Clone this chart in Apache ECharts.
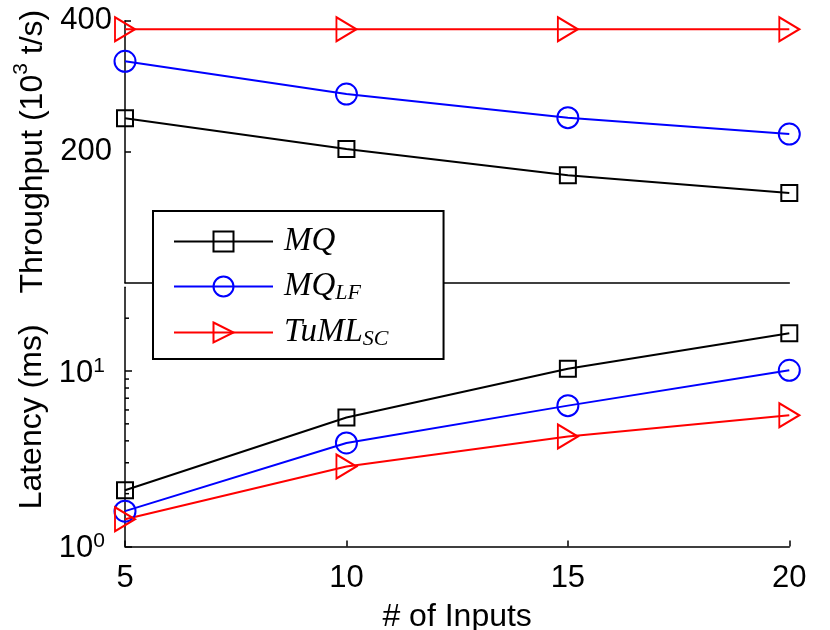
<!DOCTYPE html>
<html>
<head>
<meta charset="utf-8">
<title>Throughput / Latency</title>
<script src="https://cdn.jsdelivr.net/npm/echarts@6/dist/echarts.min.js"></script>
<style>
	html, body {margin: 0; padding: 0; background: #fff;}
	#main {width: 830px; height: 630px;}
</style>
</head>
<body>
<div id="main"></div>
<script>
	// data
	var inputs = [5, 10, 15, 20];
	var seriesNames = ['MQ', 'MQ_LF', 'TuML_SC'];
	var throughputMQ = [251, 204, 164, 137];
	var throughputMQLF = [338, 288, 252, 227];
	var throughputTuML = [387, 387, 387, 387];
	var latencyMQ = [2.09, 5.43, 10.3, 16.4];
	var latencyMQLF = [1.59, 3.89, 6.35, 10.1];
	var latencyTuML = [1.43, 2.86, 4.24, 5.6];
	var throughputTicks = [200, 400];
	var latencyTicks = [1, 10];
	var latencyMinorTicks = [2, 3, 4, 5, 6, 7, 8, 9, 20];

	var sans = 'Liberation Sans';
	var colors = {MQ: '#000000', MQ_LF: '#0000ff', TuML_SC: '#ff0000'};
	var symbols = {MQ: 'rect', MQ_LF: 'circle', TuML_SC: 'path://M0,0L20,12L0,24Z'};
	var sizes = {MQ: 16, MQ_LF: 21, TuML_SC: [20, 24]};

	function pairs(ys) {
		return inputs.map(function (x, i) { return [x, ys[i]]; });
	}

	function line(name, idx, ys) {
		return {
			name: name,
			type: 'line',
			xAxisIndex: idx,
			yAxisIndex: idx,
			data: pairs(ys),
			symbol: symbols[name],
			symbolSize: sizes[name],
			showAllSymbol: true,
			clip: false,
			animation: false,
			lineStyle: {color: colors[name], width: 2},
			itemStyle: {color: 'rgba(255,255,255,0)', borderColor: colors[name], borderWidth: 2},
			emphasis: {disabled: true}
		};
	}

	//legend labels with subscripts
	function legendText(name) {
		if (name === 'MQ') return '{m|MQ}';
		if (name === 'MQ_LF') return '{m|MQ}{s|LF}';
		return '{m|TuML}{s|SC}';
	}

	function logLabel(v) {
		var e = Math.round(Math.log(v) / Math.LN10);
		return '{b|10}{e|' + e + '}';
	}

	var chart = echarts.init(document.getElementById('main'), null, {renderer: 'canvas'});

	var option = {
		backgroundColor: '#fff',
		animation: false,
		grid: [
			{left: 125, right: 40.7, top: 20.7, bottom: 347.3, outerBoundsMode: 'none', containLabel: false},
			{left: 125, right: 40.7, top: 287.3, bottom: 83.5, outerBoundsMode: 'none', containLabel: false}
		],
		legend: {
			orient: 'vertical',
			left: 153,
			top: 211,
			data: seriesNames,
			selectedMode: false,
			itemWidth: 99,
			itemHeight: 25,
			itemGap: 11,
			padding: [14, 55, 9, 20],
			backgroundColor: '#fff',
			borderColor: '#000',
			borderWidth: 2,
			borderRadius: 0,
			formatter: legendText,
			textStyle: {
				color: '#000',
				fontFamily: 'Liberation Serif',
				fontStyle: 'italic',
				fontSize: 33,
				padding: [0, 0, 0, 6],
				rich: {
					m: {fontFamily: 'Liberation Serif', fontStyle: 'italic', fontSize: 33, lineHeight: 34, color: '#000'},
					s: {fontFamily: 'Liberation Serif', fontStyle: 'italic', fontSize: 22, lineHeight: 21, padding: [13, 0, 0, 0], color: '#000'}
				}
			}
		},
		xAxis: [
			{
				type: 'value', gridIndex: 0, min: 5, max: 20, interval: 5,
				axisLine: {show: true, onZero: false, lineStyle: {color: '#000', width: 1.5}},
				axisTick: {show: false},
				axisLabel: {show: false},
				splitLine: {show: false}
			},
			{
				type: 'value', gridIndex: 1, min: 5, max: 20, interval: 5,
				name: '# of Inputs',
				nameLocation: 'middle',
				nameGap: 55,
				nameTextStyle: {color: '#000', fontFamily: sans, fontSize: 32},
				axisLine: {show: true, onZero: false, lineStyle: {color: '#000', width: 1.5}},
				axisTick: {show: true, inside: true, length: 6, lineStyle: {color: '#000', width: 1.5}},
				axisLabel: {color: '#000', fontFamily: sans, fontSize: 31, margin: 16},
				splitLine: {show: false}
			}
		],
		yAxis: [
			{
				type: 'value', gridIndex: 0, min: 0, max: 400,
				name: '{n|Throughput (10}{sup|3}{n| t/s)}',
				nameLocation: 'middle',
				nameGap: 82,
				nameTextStyle: {
					color: '#000', fontFamily: sans, fontSize: 32,
					rich: {
						n: {fontFamily: sans, fontSize: 32, lineHeight: 32, padding: [12, 0, 0, 0], color: '#000'},
						sup: {fontFamily: sans, fontSize: 21, lineHeight: 21, verticalAlign: 'top', color: '#000'}
					}
				},
				axisLine: {show: true, onZero: false, lineStyle: {color: '#000', width: 1.5}},
				axisTick: {show: true, inside: true, length: 6, customValues: throughputTicks, lineStyle: {color: '#000', width: 1.5}},
				axisLabel: {color: '#000', fontFamily: sans, fontSize: 31, margin: 13, customValues: throughputTicks},
				splitLine: {show: false}
			},
			{
				type: 'log', gridIndex: 1, logBase: 10, min: 1, max: 30,
				name: 'Latency (ms)',
				nameLocation: 'middle',
				nameGap: 74,
				nameTextStyle: {color: '#000', fontFamily: sans, fontSize: 32},
				axisLine: {show: true, onZero: false, lineStyle: {color: '#000', width: 1.5}},
				axisTick: {show: true, inside: true, length: 7, customValues: latencyTicks, lineStyle: {color: '#000', width: 1.5}},
				axisLabel: {
					color: '#000', fontFamily: sans, fontSize: 31, margin: 20,
					customValues: latencyTicks,
					formatter: logLabel,
					rich: {
						b: {fontFamily: sans, fontSize: 31, lineHeight: 31, padding: [12, 0, 8, 0], color: '#000'},
						e: {fontFamily: sans, fontSize: 21, lineHeight: 21, verticalAlign: 'top', color: '#000'}
					}
				},
				splitLine: {show: false}
			}
		],
		series: [
			line('MQ', 0, throughputMQ),
			line('MQ_LF', 0, throughputMQLF),
			line('TuML_SC', 0, throughputTuML),
			line('MQ', 1, latencyMQ),
			line('MQ_LF', 1, latencyMQLF),
			line('TuML_SC', 1, latencyTuML),
			{
				//minor ticks of the log axis
				type: 'custom',
				xAxisIndex: 1,
				yAxisIndex: 1,
				silent: true,
				clip: false,
				data: latencyMinorTicks.map(function (v) { return [inputs[0], v]; }),
				renderItem: function (params, api) {
					var p = api.coord([api.value(0), api.value(1)]);
					return {
						type: 'line',
						shape: {x1: p[0], y1: p[1], x2: p[0] + 4, y2: p[1]},
						style: {stroke: '#000', lineWidth: 1.5}
					};
				}
			}
		]
	};

	chart.setOption(option);
</script>
</body>
</html>
